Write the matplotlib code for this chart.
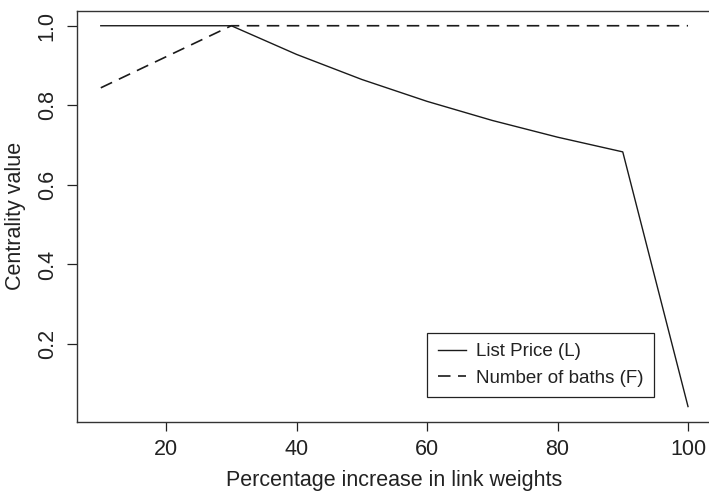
import matplotlib
matplotlib.use('Agg')
import matplotlib.pyplot as plt

# Data
pct_increase = [10, 20, 30, 40, 50, 60, 70, 80, 90, 100]
list_price   = [1.0, 1.0, 1.0, 0.928, 0.865, 0.81, 0.762, 0.72, 0.683, 0.043]
num_baths    = [0.844, 0.922, 1.0, 1.0, 1.0, 1.0, 1.0, 1.0, 1.0, 1.0]

x_ticks = [20, 40, 60, 80, 100]
y_ticks = [0.2, 0.4, 0.6, 0.8, 1.0]

plt.rcParams['font.family'] = ['Liberation Sans', 'DejaVu Sans']
plt.rcParams['font.size'] = 15.5

W, H = 709, 491
fig = plt.figure(figsize=(W / 100, H / 100), dpi=100)
# axes box in pixels: left 77.3, right 711.5 (cropped), top 10.5, bottom 421.8
ax = fig.add_axes([77.3 / W, 1 - 421.8 / H, (711.5 - 77.3) / W, (421.8 - 10.5) / H])

ln_col = '#1a1a1a'
ax.plot(pct_increase, list_price, color=ln_col, lw=1.0, label='List Price (L)')
ax.plot(pct_increase, num_baths, color=ln_col, lw=1.2, dashes=(7.5, 4.5),
        label='Number of baths (F)')

ax.set_xlim(6.4, 103.6)
ax.set_ylim(0.0047, 1.0383)
ax.set_xticks(x_ticks)
ax.set_xticklabels([str(v) for v in x_ticks])
ax.set_yticks(y_ticks)
ax.set_yticklabels(['%.1f' % v for v in y_ticks], rotation=90, va='center')

for s in ax.spines.values():
    s.set_color('#333333')
    s.set_linewidth(1.0)
ax.spines['right'].set_visible(False)
ax.tick_params(axis='x', length=6.5, width=0.9, pad=6, colors='#222222')
ax.tick_params(axis='y', length=7, width=0.9, pad=7, colors='#222222')

ax.set_xlabel('Percentage increase in link weights', labelpad=7, color='#222222')
ax.set_ylabel('Centrality value', labelpad=8, color='#222222')

leg = ax.legend(loc='upper left', bbox_to_anchor=(427.3 / W, 1 - 332.7 / H),
                bbox_transform=fig.transFigure, borderaxespad=0,
                fancybox=False, framealpha=1, edgecolor='#222222',
                handlelength=1.5, handletextpad=0.55, labelspacing=0.5,
                borderpad=0.55, fontsize=13.5)
leg.get_frame().set_linewidth(0.9)
for t in leg.get_texts():
    t.set_color('#222222')

plt.savefig('out.png', dpi=100, facecolor='w')
